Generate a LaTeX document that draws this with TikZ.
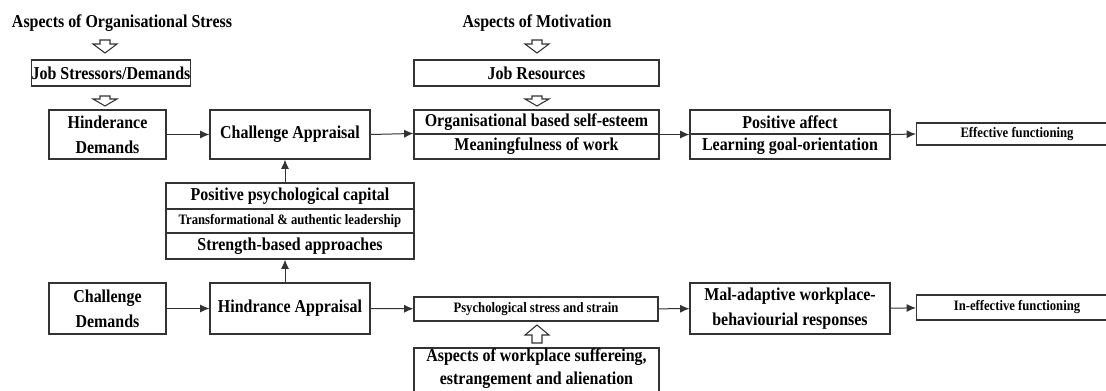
\documentclass[tikz,border=0pt]{standalone}
\usepackage{fontspec}
\setmainfont{Liberation Serif}[FakeStretch=0.88]
\usetikzlibrary{arrows.meta}
\begin{document}
\begin{tikzpicture}[x=0.75pt,y=-0.75pt,
  wh/.style 2 args={minimum width=#1*0.75pt, minimum height=#2*0.75pt},
  box/.style={draw=black!80, line width=0.8pt, inner sep=0pt, align=center,
    font=\bfseries\fontsize{13.6}{18.5}\selectfont},
  sbox/.style={box, font=\bfseries\fontsize{10.8}{13}\selectfont},
  lbl/.style={inner sep=0pt, align=center, font=\bfseries\fontsize{13.6}{17}\selectfont},
  conn/.style={draw=black!80, line width=0.75pt, -{Latex[length=7pt,width=6pt]}},
  hollow/.style={draw=black!80, line width=0.8pt, fill=white},
  pics/hdown/.style 2 args={code={\draw[hollow] (-5,0) -- (5,0) -- (5,#1-#2) -- (12,#1-#2) -- (0,#1) -- (-12,#1-#2) -- (-5,#1-#2) -- cycle;}}
]
\useasboundingbox (0,0) rectangle (1106,390);

% top labels
\node[lbl] (aos) at (122,23) {Aspects of Organisational Stress};
\node[lbl] (aom) at (537,23) {Aspects of Motivation};

% upper row
\node[box, wh={156}{26}] (jsd) at (111,73) {Job Stressors/Demands};
\node[box, wh={117}{49}] (hd) at (107.5,134.5) {Hinderance\\Demands};
\node[box, wh={160}{49}] (ca) at (290,134.5) {Challenge Appraisal};
\node[box, wh={245}{26}] (jr) at (536.5,73) {Job Resources};
\node[box, wh={245}{24}] (obs) at (536.5,122) {Organisational based self-esteem};
\node[box, wh={245}{25}] (mow) at (536.5,146.5) {Meaningfulness of work};
\node[box, wh={200}{24}] (pa) at (790,122) {Positive affect};
\node[box, wh={200}{25}] (lgo) at (790,146.5) {Learning goal-orientation};
\node[sbox, wh={201}{22}] (ef) at (1017,134) {Effective functioning};

% middle stack
\node[box, wh={248}{26}] (ppc) at (290,196) {Positive psychological capital};
\node[sbox, wh={248}{24}] (tal) at (290,221) {Transformational \& authentic leadership};
\node[box, wh={248}{26}] (sba) at (290,246) {Strength-based approaches};

% lower row
\node[box, wh={117}{51}] (cd) at (107.5,308.5) {Challenge\\Demands};
\node[box, wh={160}{51}] (ha) at (290,308.5) {Hindrance Appraisal};
\node[sbox, wh={244}{24}] (pss) at (536,309) {Psychological stress and strain};
\node[box, wh={200}{51}] (mal) at (790,308.5) {Mal-adaptive workplace-\\behaviourial responses};
\node[sbox, wh={201}{25}] (ief) at (1017,307.5) {In-effective functioning};
\node[box, wh={245}{48}] (aws) at (536.5,372) {};
\node[lbl, font=\bfseries\fontsize{13.6}{17.3}\selectfont] (awst) at (536.5,368.5) {Aspects of workplace suffereing,\\estrangement and alienation};

% hollow arrows
\pic at (105,40) {hdown={13}{9}};
\pic at (105,96) {hdown={10}{7}};
\pic at (537,40) {hdown={13}{9}};
\pic at (537,96) {hdown={10}{7}};
\pic[yscale=-1] at (537,343) {hdown={18}{10}};

% connectors
\draw[conn] (hd) -- (ca);
\draw[conn] (ca.east) -- (mow.north west);
\draw[conn] (obs.south east) -- (pa.south west);
\draw[conn] (pa.south east) -- (ef.west);
\draw[conn] ([xshift=-3.75pt]ppc.north) -- ([xshift=-3.75pt]ca.south);
\draw[conn] ([xshift=-3.75pt]ha.north) -- ([xshift=-3.75pt]sba.south);
\draw[conn] (cd) -- (ha);
\draw[conn] (ha) -- (pss);
\draw[conn] (pss) -- (mal);
\draw[conn] (mal) -- (ief);
\end{tikzpicture}
\end{document}
